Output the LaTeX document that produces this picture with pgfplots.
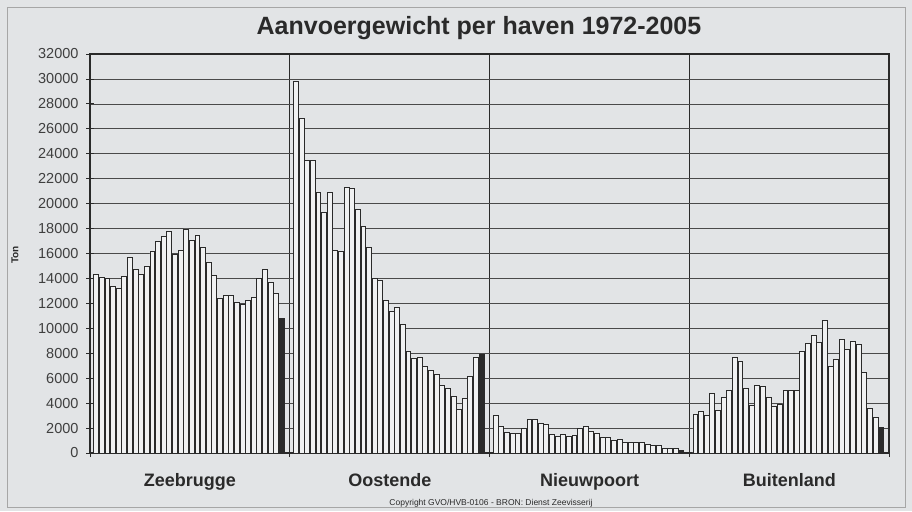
\documentclass[border=0pt]{standalone}
\usepackage{fontspec}
\setmainfont{Liberation Sans}
\usepackage{pgfplots}
\usepackage{pgfplotstable}
\pgfplotsset{compat=1.18}
\definecolor{bg}{HTML}{E2E4E6}
\definecolor{barfill}{HTML}{F0F1F2}
\definecolor{ink}{HTML}{2A2A2A}

\pgfplotstableread{
ton
14350
14080
13970
13350
13190
14160
15680
14730
14320
15000
16190
17000
17400
17780
15920
16270
17970
17080
17490
16510
15300
14240
12430
12650
12650
12050
11920
12240
12460
14000
14700
13650
12810
}\zeebrugge

\pgfplotstableread{
ton
29780
26850
23440
23440
20880
19260
20880
16240
16190
21330
21250
19500
18200
16500
14030
13820
12200
11330
11680
10320
8150
7590
7700
6980
6600
6310
5450
5160
4520
3500
4410
6150
7700
}\oostende

\pgfplotstableread{
ton
3050
2110
1660
1550
1550
2000
2700
2700
2380
2300
1500
1310
1500
1310
1390
2000
2140
1740
1550
1230
1230
1020
1100
860
860
860
860
700
590
590
370
370
370
}\nieuwpoort

\pgfplotstableread{
ton
3120
3340
3020
4750
3420
4460
5020
7660
7370
5210
3840
5450
5340
4460
3740
3870
5020
5020
5020
8140
8760
9430
8890
10600
6940
7530
9100
8300
8970
8680
6460
3580
2830
}\buitenland

\begin{document}
\begin{tikzpicture}
\fill[bg] (0,0) rectangle (912pt,511pt);
\draw[gray!70, line width=0.6pt] (7pt,4pt) rectangle (905pt,504pt);
\node[font=\bfseries\fontsize{25}{25}\selectfont, text=ink] at (479pt,483pt) {Aanvoergewicht per haven 1972-2005};
\node[rotate=90, font=\bfseries\fontsize{10}{10}\selectfont, text=ink] at (15pt,256pt) {Ton};
\node[font=\fontsize{8.5}{8.5}\selectfont, text=ink] at (491pt,8pt) {Copyright GVO/HVB-0106 - BRON: Dienst Zeevisserij};
\begin{axis}[
  at={(90pt,58pt)}, anchor=south west, scale only axis,
  width=799pt, height=399pt,
  xmin=0, xmax=142, ymin=0, ymax=32000,
  enlargelimits=false,
  ybar, bar width=0.88, bar shift=0pt,
  ytick={0,2000,...,32000},
  scaled y ticks=false,
  xtick={0,35.5,71,106.5,142}, xticklabels={},
  xtick pos=bottom, ytick pos=left,
  xmajorgrids, ymajorgrids,
  x grid style={ink, line width=1.2pt},
  y grid style={ink!85, line width=0.7pt},
  axis line style={ink, line width=1.2pt},
  tick style={ink, line width=0.8pt},
  tick align=center, major tick length=8pt,
  yticklabel style={font=\fontsize{14.5}{14.5}\selectfont, text=ink!90, xshift=-4pt},
  /pgf/number format/.cd, 1000 sep={}, assume math mode=true,
  /pgfplots/.cd,
  extra x ticks={17.77,53.3,88.8,124.3},
  extra x tick labels={Zeebrugge,Oostende,Nieuwpoort,Buitenland},
  extra x tick style={major tick length=0pt, grid=none,
     xticklabel style={font=\bfseries\fontsize{18}{18}\selectfont, text=ink, yshift=-17pt, xshift=0pt}},
]
\addplot[fill=barfill, draw=ink, line width=0.8pt] table[x expr=\coordindex+1.09, y=ton] {\zeebrugge};
\addplot[fill=barfill, draw=ink, line width=0.8pt] table[x expr=\coordindex+36.59, y=ton] {\oostende};
\addplot[fill=barfill, draw=ink, line width=0.8pt] table[x expr=\coordindex+72.09, y=ton] {\nieuwpoort};
\addplot[fill=barfill, draw=ink, line width=0.8pt] table[x expr=\coordindex+107.59, y=ton] {\buitenland};
\addplot[fill=ink, draw=ink, line width=0.8pt] coordinates {(34.09,10800) (69.59,7910) (105.09,240) (140.59,2060)};
\end{axis}
\end{tikzpicture}
\end{document}
